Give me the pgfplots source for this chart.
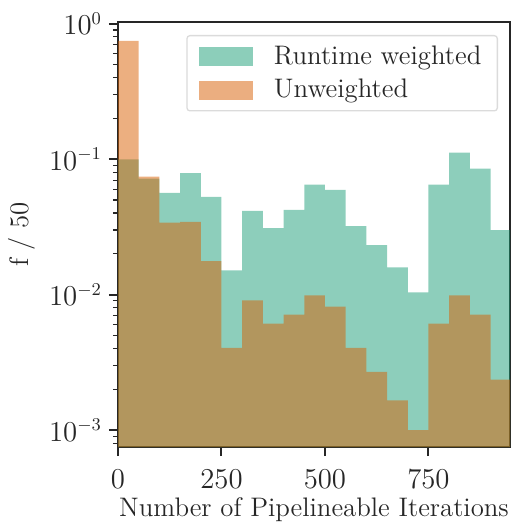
\documentclass[border=0pt]{standalone}
\usepackage{pgfplots}
\pgfplotsset{compat=1.18}
\definecolor{dgreen}{RGB}{27,158,119}
\definecolor{dorange}{RGB}{217,95,2}
\definecolor{ink}{RGB}{38,38,38}
\newcommand{\fs}{\fontsize{13.4}{16}\selectfont}

\begin{document}
\begin{tikzpicture}
\begin{axis}[
  scale only axis, width=196pt, height=212.5pt,
  ymode=log, log origin y=infty,
  xmin=0, xmax=947, ymin=7.5e-4, ymax=1.03,
  xtick={0,250,500,750},
  tick pos=left, tick align=outside,
  major tick length=4.5pt, minor tick length=2.5pt,
  every major tick/.append style={line width=1pt, ink},
  every minor tick/.append style={line width=0.6pt, ink},
  axis line style={line width=1.1pt, ink},
  xlabel={Number of Pipelineable Iterations},
  ylabel={f / 50},
  label style={font=\fs, text=ink},
  tick label style={font=\fs, text=ink},
  xticklabel style={yshift=-3.5pt},
  xlabel style={yshift=2.5pt},
  legend cell align=left,
  legend style={at={(1,1)}, anchor=north east, xshift=-6pt, yshift=-6.5pt,
    draw=black!14, line width=0.65pt, rounded corners=1.5pt,
    fill=white, font=\fs, text=ink, row sep=2pt, column sep=8.5pt,
    inner xsep=6pt, inner ysep=3pt},
]
\addplot[ybar interval, fill=dgreen, fill opacity=0.5, draw=none,
  legend image code/.code={\fill[dgreen, fill opacity=0.5, sharp corners] (0pt,-4.75pt) rectangle (27pt,4.75pt);}]
  coordinates {(0,0.0995) (50,0.0718) (100,0.0565) (150,0.079) (200,0.0527)
  (250,0.0151) (300,0.0415) (350,0.031) (400,0.0422) (450,0.0648)
  (500,0.0594) (550,0.0321) (600,0.0232) (650,0.0159) (700,0.0104)
  (750,0.0648) (800,0.112) (850,0.0851) (900,0.030) (950,0.030)};
\addlegendentry{Runtime weighted}
\addplot[ybar interval, fill=dorange, fill opacity=0.5, draw=none,
  legend image code/.code={\fill[dorange, fill opacity=0.5, sharp corners] (0pt,-4.75pt) rectangle (27pt,4.75pt);}]
  coordinates {(0,0.748) (50,0.0743) (100,0.034) (150,0.0344) (200,0.0177)
  (250,0.00405) (300,0.00906) (350,0.0061) (400,0.00713) (450,0.00986)
  (500,0.00817) (550,0.00405) (600,0.00269) (650,0.00166) (700,0.001)
  (750,0.0061) (800,0.00986) (850,0.00713) (900,0.00236) (950,0.00236)};
\addlegendentry{Unweighted}
\coordinate (sw) at (rel axis cs:0,0);
\coordinate (ne) at (rel axis cs:1,1);
\end{axis}
\pgfresetboundingbox
\path ([shift={(-59pt,-38pt)}]sw) rectangle ([shift={(0.5pt,11pt)}]ne);
\end{tikzpicture}
\end{document}
